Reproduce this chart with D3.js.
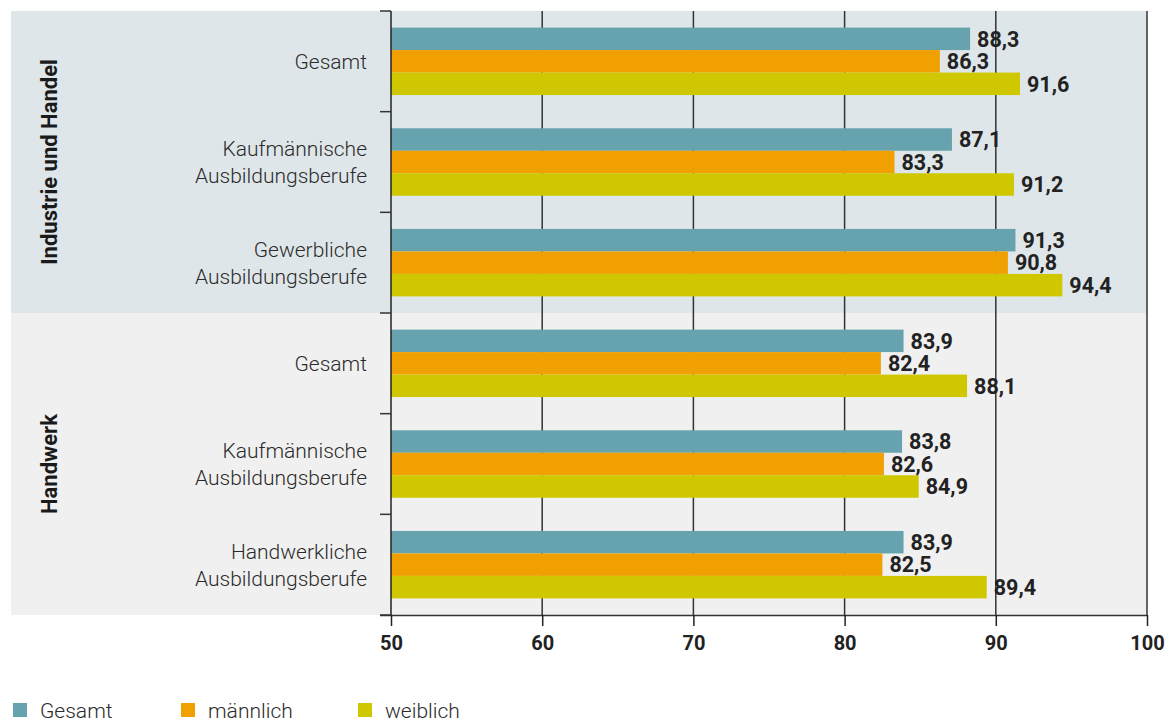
<!DOCTYPE html>
<html>
<head>
<meta charset="utf-8">
<script src="https://cdn.jsdelivr.net/npm/d3@7"></script>
<style>
  body { margin: 0; background: #fff; }
  svg { display: block; font-family: Roboto, "Liberation Sans", sans-serif; }
</style>
</head>
<body>
<script>
// Bar chart: Anteil in % nach Bereich und Ausbildungsberuf

const groups = ["Industrie und Handel", "Handwerk"];
const categories = [
    ["Gesamt"],
    ["Kaufmännische", "Ausbildungsberufe"],
    ["Gewerbliche", "Ausbildungsberufe"],
    ["Gesamt"],
    ["Kaufmännische", "Ausbildungsberufe"],
    ["Handwerkliche", "Ausbildungsberufe"]
];
const categoryGroup = [0, 0, 0, 1, 1, 1];
const seriesNames = ["Gesamt", "männlich", "weiblich"];
const gesamt   = [88.3, 87.1, 91.3, 83.9, 83.8, 83.9];
const maennlich = [86.3, 83.3, 90.8, 82.4, 82.6, 82.5];
const weiblich = [91.6, 91.2, 94.4, 88.1, 84.9, 89.4];
const xTicks = [50, 60, 70, 80, 90, 100];

const colors = ["#66a3ae", "#f0a000", "#cfc800"];
const groupBg = ["#dfe6e9", "#f0f0f0"];

const width = 1169;
const height = 720;
const plotLeft = 391, plotRight = 1147, plotTop = 11, plotBottom = 615;

const svg = d3.select("body")
    .append("svg")
    .attr("width", width)
    .attr("height", height);

const xScale = d3.scaleLinear()
    .domain([50, 100])
    .range([plotLeft, plotRight]);

const yScale = d3.scaleBand()
    .domain(d3.range(categories.length))
    .range([plotTop, plotBottom])
    .paddingInner(0.33)
    .paddingOuter(0.165);

const yInner = d3.scaleBand()
    .domain(d3.range(seriesNames.length))
    .range([0, yScale.bandwidth()]);

const step = (plotBottom - plotTop) / categories.length;

// group backgrounds
groups.forEach((g, gi) => {
    const idx = categoryGroup.map((c, i) => c === gi ? i : -1).filter(i => i >= 0);
    const y0 = plotTop + d3.min(idx) * step;
    const y1 = plotTop + (d3.max(idx) + 1) * step;
    svg.append("rect")
        .attr("x", 11)
        .attr("y", y0)
        .attr("width", plotRight - 11)
        .attr("height", y1 - y0)
        .attr("fill", groupBg[gi]);
    svg.append("text")
        .attr("transform", `translate(57,${(y0 + y1) / 2}) rotate(-90)`)
        .attr("text-anchor", "middle")
        .attr("font-size", 22)
        .attr("font-weight", "bold")
        .attr("fill", "#1a1a1a")
        .text(g);
});

// vertical gridlines
svg.append("g")
    .selectAll("line")
    .data(xTicks.slice(1))
    .join("line")
    .attr("x1", d => xScale(d))
    .attr("x2", d => xScale(d))
    .attr("y1", plotTop)
    .attr("y2", plotBottom)
    .attr("stroke", "#333")
    .attr("stroke-width", 1.5);

// bars
const series = [gesamt, maennlich, weiblich];
series.forEach((vals, si) => {
    svg.append("g")
        .selectAll("rect")
        .data(vals)
        .join("rect")
        .attr("x", xScale(50))
        .attr("y", (d, i) => yScale(i) + yInner(si))
        .attr("width", d => xScale(d) - xScale(50))
        .attr("height", yInner.bandwidth())
        .attr("fill", colors[si]);
});

// value labels
series.forEach((vals, si) => {
    svg.append("g")
        .selectAll("text")
        .data(vals)
        .join("text")
        .attr("x", d => xScale(d) + 7)
        .attr("y", (d, i) => yScale(i) + yInner(si) + yInner.bandwidth() / 2)
        .attr("dy", "0.36em")
        .attr("font-size", 21.5)
        .attr("font-weight", "bold")
        .attr("fill", "#222")
        .text(d => d.toFixed(1).replace(".", ","));
});

// x axis
const xAxis = d3.axisBottom(xScale)
    .tickValues(xTicks)
    .tickSize(11)
    .tickSizeOuter(0)
    .tickFormat(d => d);

const gx = svg.append("g")
    .attr("transform", `translate(0,${plotBottom})`)
    .call(xAxis);
gx.select(".domain")
    .attr("d", `M${plotLeft - 11},0.5H${plotRight}`)
    .attr("stroke", "#333")
    .attr("stroke-width", 1.5);
gx.selectAll(".tick line").attr("stroke", "#222").attr("stroke-width", 1.5);
gx.selectAll(".tick text")
    .attr("y", 21)
    .attr("font-size", 20)
    .attr("font-weight", "bold")
    .attr("fill", "#222")
    .attr("font-family", "Roboto, 'Liberation Sans', sans-serif");

// y axis (band separators)
svg.append("line")
    .attr("x1", plotLeft).attr("x2", plotLeft)
    .attr("y1", plotTop).attr("y2", plotBottom)
    .attr("stroke", "#222").attr("stroke-width", 1.5);
svg.append("g")
    .selectAll("line")
    .data(d3.range(categories.length + 1))
    .join("line")
    .attr("x1", plotLeft - 11)
    .attr("x2", plotLeft)
    .attr("y1", d => plotTop + d * step)
    .attr("y2", d => plotTop + d * step)
    .attr("stroke", "#333")
    .attr("stroke-width", 1.5);

// category labels
categories.forEach((lines, i) => {
    const cy = yScale(i) + yScale.bandwidth() / 2;
    const t = svg.append("text")
        .attr("x", 367)
        .attr("text-anchor", "end")
        .attr("font-size", 21)
        .attr("font-weight", 300)
        .attr("fill", "#2b2b2b");
    lines.forEach((l, li) => {
        t.append("tspan")
            .attr("x", 367)
            .attr("y", cy + (li - (lines.length - 1) / 2) * 27)
            .attr("dy", "0.36em")
            .text(l);
    });
});

// legend
const legend = svg.append("g")
    .selectAll("g")
    .data(seriesNames)
    .join("g")
    .attr("transform", (d, i) => `translate(${[13, 181, 358][i]},703)`);
legend.append("rect")
    .attr("width", 14)
    .attr("height", 14)
    .attr("fill", (d, i) => colors[i]);
legend.append("text")
    .attr("x", 27)
    .attr("y", 7)
    .attr("dy", "0.36em")
    .attr("font-size", 21)
    .attr("font-weight", 300)
    .attr("fill", "#2b2b2b")
    .text(d => d);
</script>
</body>
</html>
